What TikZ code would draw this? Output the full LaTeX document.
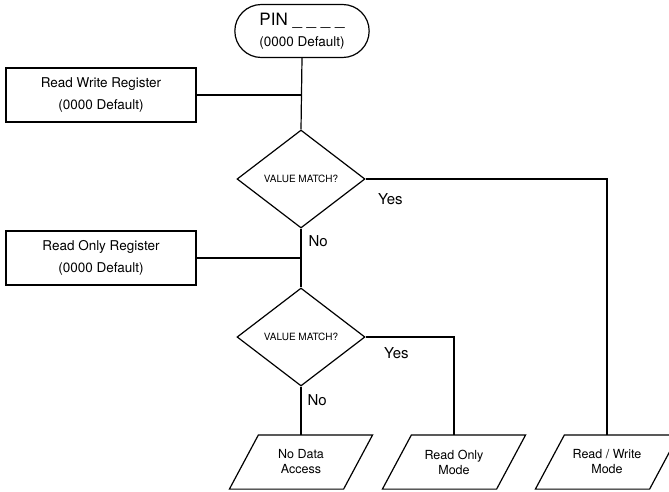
\documentclass[tikz,border=0pt]{standalone}
\usepackage{fontspec}
\setmainfont{TeX Gyre Heros}
\usetikzlibrary{shapes.geometric}
\usetikzlibrary{shapes.misc}
\usetikzlibrary{positioning}

\begin{document}
\begin{tikzpicture}[x=1pt,y=-1pt,line width=1.2pt,
register/.style={draw,rectangle,minimum width=190pt,minimum height=54pt,align=center,
  font=\fontsize{13.5}{22}\selectfont},
check/.style={draw,diamond,minimum width=128pt,minimum height=98pt,inner sep=0pt,
  font=\fontsize{10}{12}\selectfont},
% slanted box: a rectangle whose outline is pushed over at top and bottom
outcome/.style={rectangle,minimum width=113pt,minimum height=53pt,inner sep=0pt,align=center,
  font=\fontsize{12.5}{15}\selectfont,
  append after command={\pgfextra{\draw ([xshift=-14.5pt]\tikzlastnode.south west)
    -- ([xshift=14.5pt]\tikzlastnode.north west) -- ([xshift=14.5pt]\tikzlastnode.north east)
    -- ([xshift=-14.5pt]\tikzlastnode.south east) -- cycle;}}},
answer/.style={inner sep=0pt,font=\fontsize{15}{18}\selectfont}]
\useasboundingbox (0,0) rectangle (669,491);
% start
\node[draw,rounded rectangle,minimum width=141pt,minimum height=53pt,align=center] (pin) at (302,31)
  {{\fontsize{17}{20}\selectfont PIN \_ \_ \_ \_}\\[7pt]{\fontsize{13.5}{16}\selectfont (0000 Default)}};
% registers
\node[register] (rw) at (101,95) {Read Write Register\\(0000 Default)};
\node[register] (ro) at (101,258) {Read Only Register\\(0000 Default)};
% checks
\node[check] (d1) at (301,179) {VALUE MATCH?};
\node[check] (d2) at (301,337) {VALUE MATCH?};
% results
\node[outcome] (nda) at (301,462) {No Data\\Access};
\node[outcome] (ram) at (454,462) {Read Only\\Mode};
\node[outcome] (rwm) at (607,462) {Read / Write\\Mode};
% labels
\node[answer,anchor=north west,below right=14pt and 12pt of d1.east] (yes1) {Yes};
\node[answer,anchor=north west,below right=6pt and 7pt of d1.south] (no1) {No};
\node[answer,anchor=north west,below right=10pt and 18pt of d2.east] (yes2) {Yes};
\node[answer,anchor=north west,below right=7pt and 6pt of d2.south] (no2) {No};
% lines
\draw (pin.south) -- (d1.north);
\draw (rw.east) -- (rw.east -| d1.north);
\draw (d1.south) -- (d2.north);
\draw (ro.east) -- (ro.east -| d2.north);
\draw (d1.east) -| (rwm.north);
\draw (d2.east) -| (ram.north);
\draw (d2.south) -- (nda.north);
\end{tikzpicture}
\end{document}
